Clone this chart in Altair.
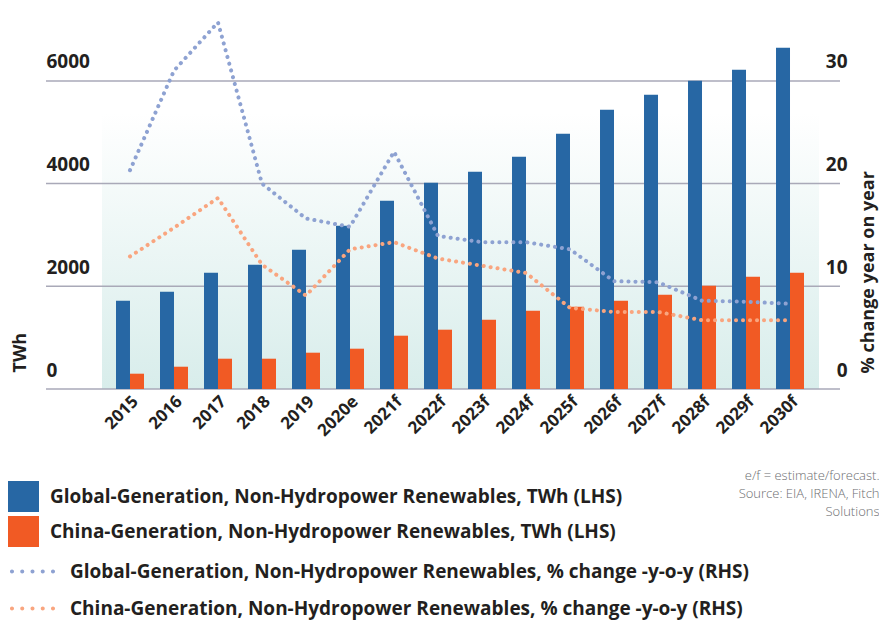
import altair as alt
import pandas as pd

# ---------------- data ----------------
years = ["2015", "2016", "2017", "2018", "2019", "2020e", "2021f", "2022f",
         "2023f", "2024f", "2025f", "2026f", "2027f", "2028f", "2029f", "2030f"]
global_twh = [1720, 1895, 2265, 2420, 2713, 3180, 3667, 4018,
              4232, 4524, 4972, 5439, 5731, 6004, 6218, 6647]
china_twh = [298, 434, 590, 590, 707, 785, 1038, 1155,
             1350, 1525, 1603, 1720, 1836, 2012, 2187, 2265]
global_pct = [21.3, 31.0, 35.7, 20.0, 16.6, 15.8, 23.1, 14.9,
              14.3, 14.3, 13.6, 10.5, 10.4, 8.6, 8.5, 8.3]
china_pct = [12.9, 15.7, 18.6, 12.1, 9.1, 13.6, 14.3, 12.7,
             12.0, 11.3, 7.9, 7.5, 7.5, 6.7, 6.7, 6.7]

bar_series = ["Global-Generation, Non-Hydropower Renewables, TWh (LHS)",
              "China-Generation, Non-Hydropower Renewables, TWh (LHS)"]
pct_series = ["Global-Generation, Non-Hydropower Renewables, % change -y-o-y (RHS)",
              "China-Generation, Non-Hydropower Renewables, % change -y-o-y (RHS)"]
pct_keys = ["global_pct", "china_pct"]
left_ticks = [0, 2000, 4000, 6000]
right_ticks = [0, 10, 20, 30]
source_note = ["e/f = estimate/forecast.", "Source: EIA, IRENA, Fitch", "Solutions"]

# ---------------- tables ----------------
bars_df = pd.DataFrame({
    "year": years * 2,
    "series": [bar_series[0]] * len(years) + [bar_series[1]] * len(years),
    "value": global_twh + china_twh,
})
pct_df = pd.DataFrame({
    "year": years * 2,
    "key": [pct_keys[0]] * len(years) + [pct_keys[1]] * len(years),
    "series": [pct_series[0]] * len(years) + [pct_series[1]] * len(years),
    "pct": global_pct + china_pct,
})
grid_df = pd.DataFrame({"v": left_ticks})
bg_df = pd.DataFrame({"a": [0]})

# ---------------- style ----------------
FONT = "Open Sans"
DARK = "#231f20"
BLUE = "#2767a4"
ORANGE = "#f15a24"
LBLUE = "#8ea2d2"
LORANGE = "#f9a57f"
W, H = 794, 380

twh_scale = alt.Scale(domain=[0, 7400], nice=False, zero=True)
pct_scale = alt.Scale(domain=[0, 37], nice=False, zero=True)
x_scale = alt.Scale(range=[70, 758], paddingInner=0.364, paddingOuter=0)

square_path = "M-1,-1H1V1H-1Z"
dots = [-0.742, -0.081, 0.581, 1.242, 1.903]
r = 0.13
dots_path = " ".join(
    f"M{c - r:.3f},0a{r},{r} 0 1,0 {2 * r:.3f},0a{r},{r} 0 1,0 {-2 * r:.3f},0" for c in dots
)

x_axis = alt.Axis(
    labelAngle=315, labelAlign="right", labelBaseline="top", labelPadding=4,
    labelFont=FONT, labelFontSize=17, labelFontWeight="bold", labelColor=DARK,
    domain=False, ticks=False, grid=False,
    title=source_note, titleX=833, titleY=80, titleAlign="right", titleBaseline="top",
    titleAngle=0, titleFont=FONT, titleFontSize=13, titleFontWeight=300,
    titleColor="#6d6e71", titleLineHeight=18,
)
left_axis = alt.Axis(
    orient="left", values=left_ticks, format="d", grid=False, domain=False, ticks=False,
    tickSize=0, labelAlign="left", labelPadding=0, labelOffset=-19, labelBaseline="middle",
    labelFont=FONT, labelFontSize=19, labelFontWeight="bold", labelColor=DARK,
    title="TWh", titleX=-26, titleY=363, titleAngle=270, titleAlign="left",
    titleBaseline="middle", titleFont=FONT, titleFontSize=18, titleFontWeight="bold",
    titleColor=DARK,
)
right_axis = alt.Axis(
    orient="right", values=right_ticks, format="d", grid=False, domain=False, ticks=False,
    tickSize=0, labelAlign="right", labelPadding=7, labelOffset=-19, labelBaseline="middle",
    labelFont=FONT, labelFontSize=19, labelFontWeight="bold", labelColor=DARK,
    title="% change year on year", titleX=28, titleY=364, titleAngle=270,
    titleAlign="left", titleBaseline="middle", titleFont=FONT, titleFontSize=18,
    titleFontWeight="bold", titleColor=DARK,
)

legend_common = dict(
    orient="none", direction="vertical", title=None, padding=0,
    symbolSize=961, symbolStrokeWidth=0, symbolOpacity=1,
    labelFont=FONT, labelFontSize=19, labelFontWeight="bold", labelColor=DARK,
    labelLimit=900,
)
bar_legend = alt.Legend(legendX=-38, legendY=472, symbolType=square_path,
                        labelOffset=11, rowPadding=4, **legend_common)
dot_legend = alt.Legend(legendX=-38, legendY=547, labelOffset=31, rowPadding=11,
                        **legend_common)

# ---------------- layers ----------------
gradient = alt.Gradient(
    gradient="linear",
    stops=[alt.GradientStop(color="#ffffff", offset=0),
           alt.GradientStop(color="#d8edeb", offset=1)],
    x1=0, x2=0, y1=0, y2=1,
)
background = alt.Chart(bg_df).mark_rect(fill=gradient).encode(
    x=alt.value(56), x2=alt.value(773), y=alt.value(104), y2=alt.value(H)
)

gridlines = alt.Chart(grid_df).mark_rule(color="#a9a9b8", strokeWidth=1.5).encode(
    y=alt.Y("v:Q", scale=twh_scale, axis=left_axis),
    x=alt.value(0), x2=alt.value(W),
)

bars = alt.Chart(bars_df).mark_bar(stroke=None).encode(
    x=alt.X("year:N", sort=years, scale=x_scale, axis=x_axis),
    xOffset=alt.XOffset("series:N", sort=bar_series,
                        scale=alt.Scale(domain=bar_series, paddingInner=0, paddingOuter=0)),
    y=alt.Y("value:Q", scale=twh_scale, axis=left_axis),
    fill=alt.Fill("series:N", scale=alt.Scale(domain=bar_series, range=[BLUE, ORANGE]),
                  legend=bar_legend),
)

lines = alt.Chart(pct_df).mark_line(
    interpolate="linear", strokeWidth=4, strokeDash=[0.1, 6.9], strokeCap="round"
).encode(
    x=alt.X("year:N", sort=years, scale=x_scale, axis=x_axis),
    y=alt.Y("pct:Q", scale=pct_scale, axis=right_axis),
    stroke=alt.Stroke("key:N", scale=alt.Scale(domain=pct_keys, range=[LBLUE, LORANGE]),
                      legend=None),
)

legend_layer = alt.Chart(pct_df).transform_filter("false").mark_point(
    filled=True, strokeWidth=0, opacity=1
).encode(
    color=alt.Color("series:N", scale=alt.Scale(domain=pct_series, range=[LBLUE, LORANGE]),
                    legend=dot_legend),
    shape=alt.Shape("series:N", scale=alt.Scale(domain=pct_series, range=[dots_path, dots_path]),
                    legend=dot_legend),
)

left_group = alt.layer(background, gridlines, bars)
right_group = alt.layer(lines, legend_layer)

chart = alt.layer(left_group, right_group).resolve_scale(
    y="independent"
).properties(
    width=W, height=H,
    autosize=alt.AutoSizeParams(type="none"),
    padding={"left": 38, "top": 1, "right": 39, "bottom": 232},
).configure_view(stroke=None)

chart.save("out.html", embed_options={"renderer": "svg", "actions": False})
